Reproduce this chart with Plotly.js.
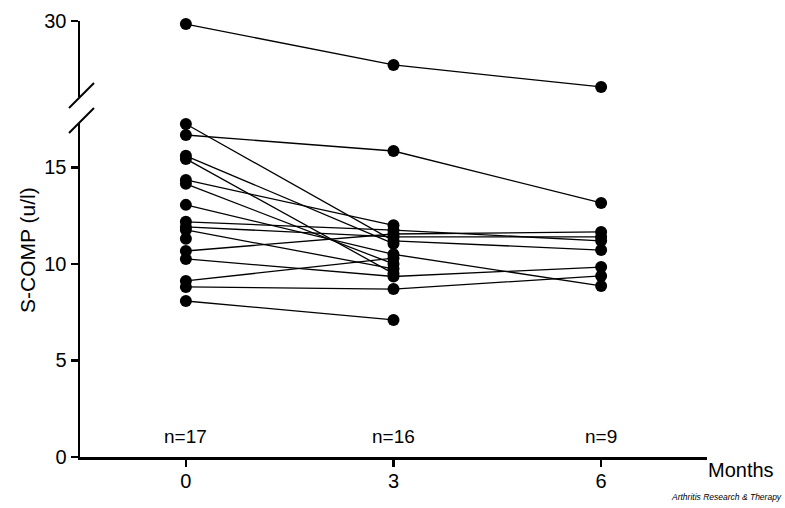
<!DOCTYPE html>
<html><head><meta charset="utf-8">
<script src="https://cdn.plot.ly/plotly-3.0.1.min.js"></script>
<style>html,body{margin:0;padding:0;background:#fff}#chart{width:785px;height:508px}</style>
</head><body><div id="chart"></div>
<script>
// Months of follow-up
const months = [0, 3, 6];
const monthLabels = ['0', '3', '6'];
const nLabels = ['n=17', 'n=16', 'n=9'];

// Patient with high S-COMP (upper, broken-axis segment)
const upperPatient = [29.84, 27.72, 26.58];

// Remaining patients (lower segment), S-COMP (u/l) at 0, 3 and 6 months (null = missing)
const month0 = [17.25, 16.68, 15.6, 15.44, 14.35, 14.15, 13.06, 12.18, 11.92, 11.76, 11.30, 10.67, 10.26, 9.12, 8.81, 8.08];
const month3 = [11.2, 15.85, 11.05, 9.5, 12.0, 10.0, 10.5, 11.75, 11.4, 9.75, null, 11.55, 9.35, 10.3, 8.7, 7.1];
const month6 = [10.72, 13.16, null, null, null, null, 8.86, 11.2, 11.4, null, null, 11.66, 9.84, null, 9.38, null];

const FONT = 'Arial, "Liberation Sans", sans-serif';
const traces = [];
const style = {mode: 'lines+markers', line: {color: '#000', width: 1.3},
  marker: {color: '#000', size: 12}, showlegend: false, hoverinfo: 'skip', connectgaps: false, cliponaxis: false};

traces.push(Object.assign({x: months, y: upperPatient, xaxis: 'x', yaxis: 'y2'}, style));
for (let i = 0; i < month0.length; i++) {
  const ys = [month0[i], month3[i], month6[i]];
  const xs = [], yv = [];
  ys.forEach((v, k) => { if (v !== null) { xs.push(months[k]); yv.push(v); } });
  traces.push(Object.assign({x: xs, y: yv, xaxis: 'x', yaxis: 'y'}, style));
}

const annotations = nLabels.map((t, k) => ({
  x: months[k], xref: 'x', y: 1.05, yref: 'y', text: t, showarrow: false,
  font: {family: FONT, size: 19, color: '#000'}, xanchor: 'center', yanchor: 'middle'
}));
annotations.push({text: 'Months', showarrow: false,
  xref: 'paper', x: (741 - 80) / 627, y: (457 - 470) / 436, yref: 'paper',
  font: {family: FONT, size: 20, color: '#000'}, xanchor: 'center', yanchor: 'middle'});
annotations.push({text: 'S-COMP (u/l)', showarrow: false, textangle: -90,
  xref: 'paper', x: (27 - 80) / 627, yref: 'paper', y: (457 - 250) / 436,
  font: {family: FONT, size: 21, color: '#000'}, xanchor: 'center', yanchor: 'middle'});
annotations.push({text: '<i>Arthritis Research &amp; Therapy</i>', showarrow: false,
  xref: 'paper', x: (784 - 80) / 627, yref: 'paper', y: (457 - 497) / 436,
  font: {family: FONT, size: 8.5, color: '#000'}, xanchor: 'right', yanchor: 'middle'});

const px = v => (v - 80) / 627, py = v => (457 - v) / 436;
const shapes = [
  {type: 'line', xref: 'paper', yref: 'paper', x0: px(69), y0: py(108), x1: px(94), y1: py(83), line: {color: '#000', width: 2}},
  {type: 'line', xref: 'paper', yref: 'paper', x0: px(69), y0: py(133), x1: px(94), y1: py(108), line: {color: '#000', width: 2}}
];

const axisCommon = {showgrid: false, zeroline: false, showline: true, linecolor: '#000', linewidth: 2.5,
  ticks: 'outside', ticklen: 7, tickwidth: 2.5, tickcolor: '#000',
  tickfont: {family: FONT, size: 20, color: '#000'}};

const layout = {
  width: 785, height: 508, margin: {l: 80, r: 78, t: 21, b: 51},
  paper_bgcolor: '#fff', plot_bgcolor: '#fff',
  xaxis: Object.assign({}, axisCommon, {range: [-1.53, 7.53], tickvals: months, ticktext: monthLabels,
    anchor: 'y', ticklabelstandoff: -3}),
  yaxis: Object.assign({}, axisCommon, {domain: [0, 0.766], range: [0, 17.3], tickvals: [0, 5, 10, 15],
    ticktext: ['0', '5', '10', '15'], anchor: 'x'}),
  yaxis2: Object.assign({}, axisCommon, {domain: [0.8257, 1], range: [26.06, 30], tickvals: [30],
    ticktext: ['30'], anchor: 'x'}),
  annotations: annotations, shapes: shapes
};
Plotly.newPlot('chart', traces, layout, {staticPlot: true});
</script></body></html>
